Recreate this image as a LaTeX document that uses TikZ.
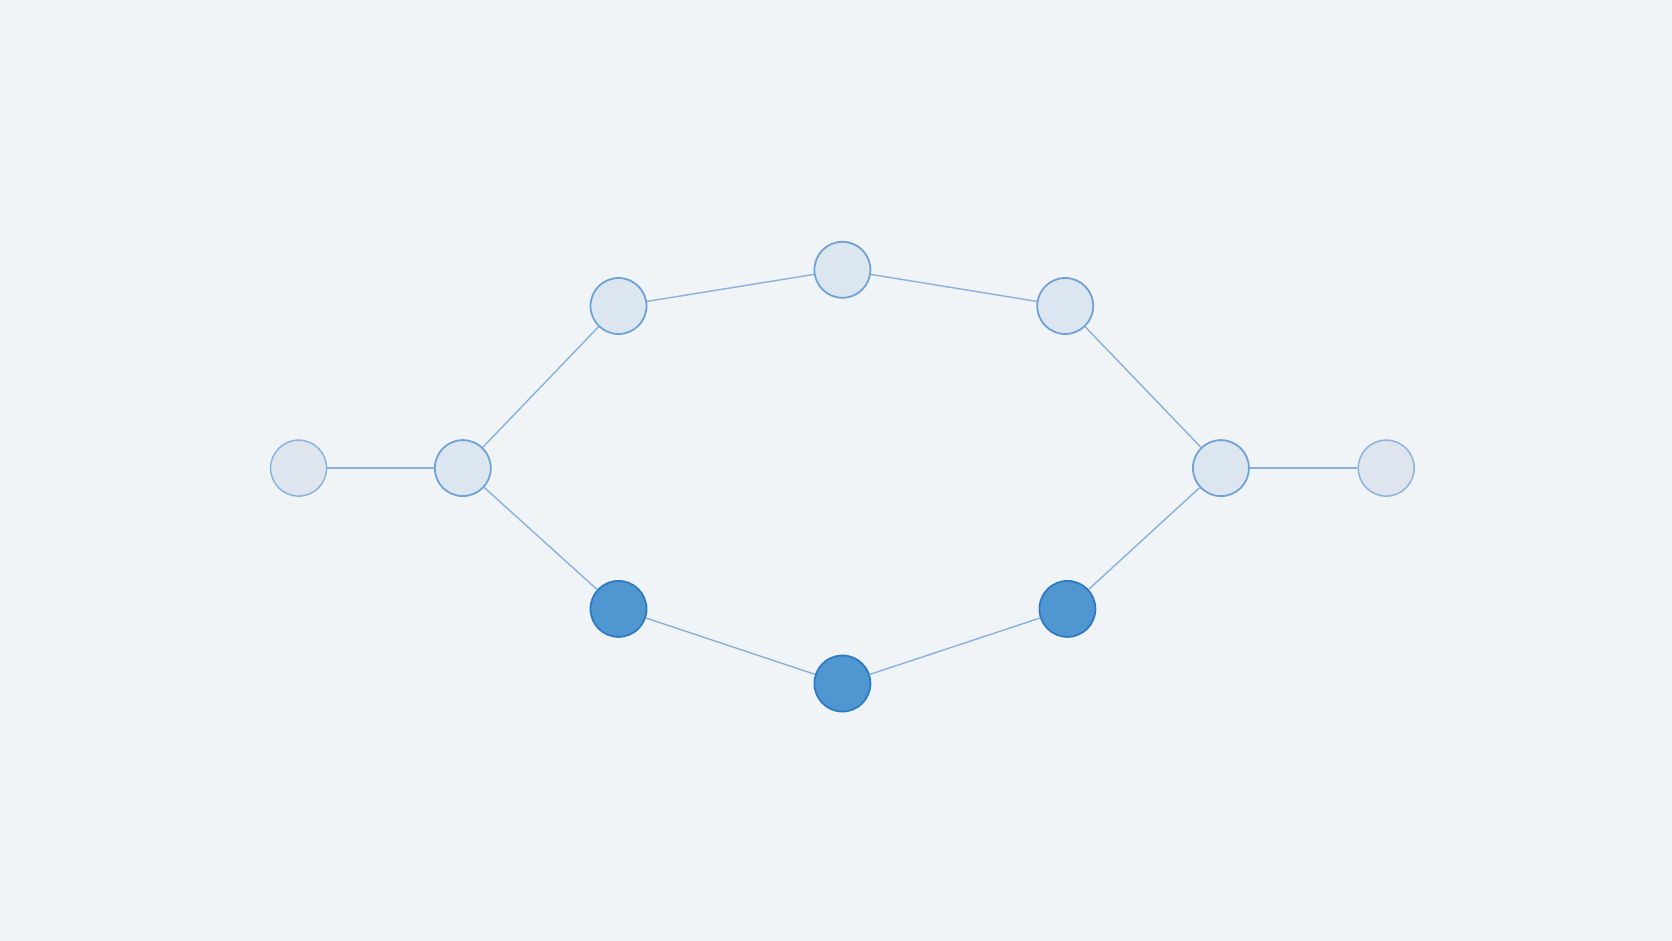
\documentclass[tikz,border=0pt]{standalone}
\definecolor{bg}{HTML}{F1F4F7}
\definecolor{lightfill}{HTML}{DCE6F0}
\definecolor{lightdraw}{HTML}{6FA3D6}
\definecolor{endfill}{HTML}{DFE5EE}
\definecolor{enddraw}{HTML}{8EB3DB}
\definecolor{darkfill}{HTML}{5096D0}
\definecolor{darkdraw}{HTML}{2F7BC2}
\definecolor{edgecol}{HTML}{88B1DB}
\tikzset{
  lnode/.style={circle, minimum size=56pt, inner sep=0pt, fill=lightfill, draw=lightdraw, line width=1.8pt},
  enode/.style={circle, minimum size=56pt, inner sep=0pt, fill=endfill, draw=enddraw, line width=1.5pt},
  dnode/.style={circle, minimum size=56pt, inner sep=0pt, fill=darkfill, draw=darkdraw, line width=1.8pt},
  edge/.style={draw=edgecol, line width=1.4pt}
}
\begin{document}
\begin{tikzpicture}[x=1pt,y=-1pt]
\fill[bg] (0,0) rectangle (1672,941);
\useasboundingbox (0,0) rectangle (1672,941);
\node[enode] (l1) at (298.6,468.1) {};
\node[lnode] (l2) at (462.8,468.1) {};
\node[lnode] (ul) at (618.5,306) {};
\node[lnode] (t) at (842.4,269.8) {};
\node[lnode] (ur) at (1065.2,306) {};
\node[lnode] (r2) at (1220.9,468.1) {};
\node[enode] (r1) at (1386.2,468.1) {};
\node[dnode] (ll) at (618.5,608.9) {};
\node[dnode] (b) at (842.4,683.5) {};
\node[dnode] (lr) at (1067.4,608.9) {};
\draw[edge] (l1) -- (l2);
\draw[edge] (l2) -- (ul);
\draw[edge] (ul) -- (t);
\draw[edge] (t) -- (ur);
\draw[edge] (ur) -- (r2);
\draw[edge] (r2) -- (r1);
\draw[edge] (l2) -- (ll);
\draw[edge] (ll) -- (b);
\draw[edge] (b) -- (lr);
\draw[edge] (lr) -- (r2);
\end{tikzpicture}
\end{document}
